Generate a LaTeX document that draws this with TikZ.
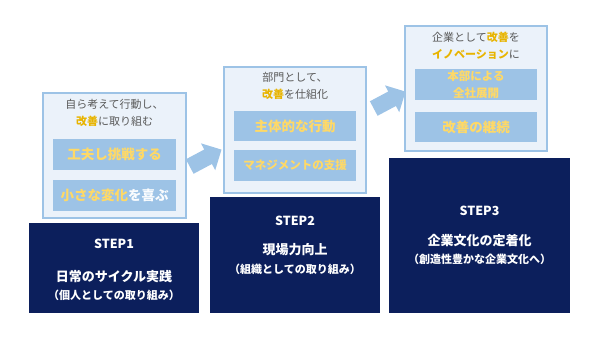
\documentclass[tikz,border=0pt]{standalone}
\usepackage{fontspec}
\setmainfont{Noto Sans CJK JP}
\usetikzlibrary{shapes.arrows}
\definecolor{navy}{HTML}{0C1F5C}
\definecolor{paleblue}{HTML}{EBF2FA}
\definecolor{edgeblue}{HTML}{9DC3E6}
\definecolor{midblue}{HTML}{9DC3E6}
\definecolor{grayink}{HTML}{595959}
\definecolor{yellowink}{HTML}{FFD966}
\definecolor{goldink}{HTML}{E8B400}
\newcommand{\hilite}[1]{{\bfseries\color{goldink}#1}}
\begin{document}
\begin{tikzpicture}[x=1pt,y=-1pt,
  panel/.style={draw=edgeblue,line width=1.6pt,fill=paleblue,inner sep=0pt},
  inbox/.style={fill=midblue,inner sep=0pt,text=yellowink,align=center,
    font=\bfseries\fontsize{13.5}{17}\selectfont},
  stepbox/.style={fill=navy,inner sep=0pt},
  note/.style={text=grayink,align=center,inner sep=0pt,
    font=\fontsize{11}{17}\selectfont},
  steplabel/.style={text=white,inner sep=0pt,font=\bfseries\fontsize{12.5}{14}\selectfont},
  steptitle/.style={text=white,inner sep=0pt,font=\bfseries\fontsize{13}{15}\selectfont},
  stepsub/.style={text=white,inner sep=0pt,font=\bfseries\fontsize{11}{13}\selectfont},
  flow/.style={shape=single arrow,fill=edgeblue,inner sep=8pt,
    single arrow head extend=7pt,minimum height=36pt}]%
\useasboundingbox (0,0) rectangle (598,342);
% STEP1
\node[panel,minimum width=143pt,minimum height=125pt] (pan1) at (114.5,155.5) {};
\node[note] (pan1t) at (114.5,113) {自ら考えて行動し、\\\hilite{改善}に取り組む};
\node[inbox,minimum width=123pt,minimum height=31pt] (act1a) at (114.5,154.5) {工夫し挑戦する};
\node[inbox,minimum width=123pt,minimum height=31pt] (act1b) at (114.5,195.5)
  {小さな変化{\color{white!95!midblue}を喜ぶ}};
\node[stepbox,minimum width=170pt,minimum height=90pt] (stp1) at (114,268) {};
\node[steplabel] (stp1a) at (114,244) {STEP1};
\node[steptitle] (stp1b) at (114,277) {日常のサイクル実践};
\node[stepsub] (stp1c) at (114,295) {（個人としての取り組み）};
% STEP2
\node[panel,minimum width=142pt,minimum height=126pt] (pan2) at (295,130) {};
\node[note] (pan2t) at (295,85.5) {部門として、\\\hilite{改善}を仕組化};
\node[inbox,minimum width=122pt,minimum height=30pt] (act2a) at (295,126) {主体的な行動};
\node[inbox,minimum width=122pt,minimum height=31pt,
  font=\bfseries\fontsize{11.5}{14}\selectfont] (act2b) at (295,165.5) {マネジメントの支援};
\node[stepbox,minimum width=170pt,minimum height=116pt] (stp2) at (295,255) {};
\node[steplabel] (stp2a) at (295,221) {STEP2};
\node[steptitle] (stp2b) at (295,250) {現場力向上};
\node[stepsub] (stp2c) at (295,269) {（組織としての取り組み）};
% STEP3
\node[panel,minimum width=142pt,minimum height=125pt] (pan3) at (476,88.5) {};
\node[note] (pan3t) at (476,46) {企業として\hilite{改善}を\\\hilite{イノベーション}に};
\node[inbox,minimum width=122pt,minimum height=31pt,
  font=\bfseries\fontsize{11.5}{16.5}\selectfont] (act3a) at (476,84.5) {本部による\\全社展開};
\node[inbox,minimum width=122pt,minimum height=30pt] (act3b) at (476,127) {改善の継続};
\node[stepbox,minimum width=181pt,minimum height=155pt] (stp3) at (479.5,235.5) {};
\node[steplabel] (stp3a) at (479.5,211) {STEP3};
\node[steptitle] (stp3b) at (479.5,241) {企業文化の定着化};
\node[stepsub] (stp3c) at (479.5,259) {（創造性豊かな企業文化へ）};
% arrows
\node[flow,rotate=28] (arr1) at (202,160) {};
\node[flow,rotate=28] (arr2) at (386,102) {};
\end{tikzpicture}
\end{document}
